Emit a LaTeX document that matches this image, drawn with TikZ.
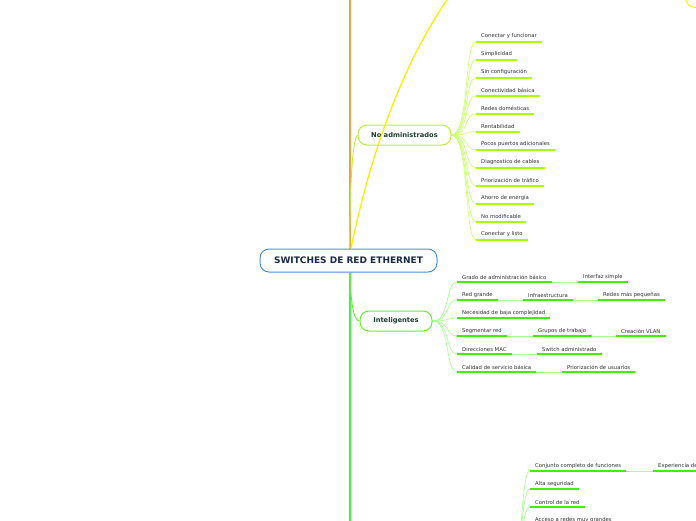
\documentclass[tikz,border=0pt]{standalone}
\usepackage{fontspec}
\setmainfont{DejaVu Sans}
\usetikzlibrary{calc}
\definecolor{rootblue}{HTML}{4A90D9}
\definecolor{navy}{HTML}{1B2A4A}
\definecolor{darkgreen}{HTML}{1F3D33}
\definecolor{orangeL}{HTML}{F5A030}
\definecolor{yellowL}{HTML}{FFEE00}
\definecolor{trunk}{HTML}{33FF33}
\definecolor{chart}{HTML}{AAFF00}
\definecolor{chartbox}{HTML}{B8F040}
\definecolor{chartpale}{HTML}{CCFF77}
\definecolor{greenA}{HTML}{44EE00}
\definecolor{greenbox}{HTML}{66EE33}
\definecolor{greenpale}{HTML}{AAFF99}
\definecolor{leaftext}{HTML}{2E2E2E}
\pgfdeclarelayer{bg}
\pgfsetlayers{bg,main}
\tikzset{
  rootbox/.style={draw=rootblue, line width=1pt, fill=white, rounded corners=9pt,
    minimum width=177pt, minimum height=23pt, inner sep=0pt,
    font=\fontsize{9}{10}\selectfont\bfseries, text=navy},
  mainbox/.style={line width=1pt, fill=white, rounded corners=9pt,
    minimum height=20pt, inner sep=0pt,
    font=\fontsize{6.7}{8}\selectfont\bfseries, text=darkgreen},
  leaf/.style={anchor=south west, inner xsep=5pt, inner ysep=2.6pt,
    font=\fontsize{5.3}{6}\selectfont, text=leaftext},
  ulA/.style={chart, line width=1.9pt},
  ulB/.style={greenA, line width=1.9pt},
  conA/.style={chartpale, line width=0.7pt},
  conB/.style={greenpale, line width=0.7pt},
}
\newcommand{\leafA}[4]{% name, x, y, text
  \node[leaf] (#1) at (#2,#3) {#4};
  \draw[ulA] (#1.south west) -- (#1.south east);
  \begin{pgfonlayer}{bg}
  \draw[conA] (noadm.east) .. controls +(18,0) and +(-12,0) .. (#1.south west);
  \end{pgfonlayer}}
\newcommand{\leafB}[4]{% name, x, y, text
  \node[leaf] (#1) at (#2,#3) {#4};
  \draw[ulB] (#1.south west) -- (#1.south east);}
\begin{document}
\begin{tikzpicture}[x=1pt,y=-1pt]
\useasboundingbox (0,0) rectangle (696,520);

% off-page parents
\coordinate (otop) at (349.5,-5);
\coordinate (ytop) at (480,-40);
\coordinate (gbot) at (349.5,525);
\coordinate (adm) at (508,570);

% top-right yellow node (mostly off page)
\node[draw=yellowL, line width=1pt, rounded corners=10pt, minimum width=80pt,
  minimum height=40pt, anchor=south west] (ynode) at (685,8) {};

% main nodes
\node[rootbox] (root) at (348.5,260.5) {SWITCHES DE RED ETHERNET};
\node[mainbox, draw=chartbox, minimum width=93pt] (noadm) at (404.5,135) {No administrados};
\node[mainbox, draw=greenbox, minimum width=72pt] (intel) at (396,321) {Inteligentes};

\begin{pgfonlayer}{bg}
\draw[orangeL, line width=2pt] ([xshift=1pt]root.north) -- (otop);
\draw[trunk, line width=2pt] ([xshift=1pt]root.south) -- (gbot);
\draw[chartbox, line width=0.9pt] ([xshift=1pt]root.north) .. controls (350,190) and (352,140) .. (noadm.west);
\draw[greenbox, line width=0.9pt] ([xshift=1pt]root.south) .. controls (351,300) and (353,321) .. (intel.west);
\end{pgfonlayer}

% No administrados leaves
\leafA{a1}{476}{41.7}{Conectar y funcionar}
\leafA{a2}{476}{59.7}{Simplicidad}
\leafA{a3}{476}{77.7}{Sin configuración}
\leafA{a4}{476}{95.7}{Conectividad básica}
\leafA{a5}{476}{113.7}{Redes domésticas}
\leafA{a6}{476}{131.7}{Rentabilidad}
\leafA{a7}{476}{149.7}{Pocos puertos adicionales}
\leafA{a8}{476}{167.7}{Diagnostico de cables}
\leafA{a9}{476}{185.7}{Priorización de tráfico}
\leafA{a10}{476}{203.7}{Ahorro de energía}
\leafA{a11}{476}{221.7}{No modificable}
\leafA{a12}{476}{239.7}{Conectar y listo}

% Inteligentes leaves
\leafB{b1}{457}{282}{Grado de administración básico}
\leafB{b1b}{578}{282}{Interfaz simple}
\leafB{b2}{457}{300}{Red grande}
\leafB{b2b}{523}{300}{Infraestructura}
\leafB{b2c}{598}{300}{Redes más pequeñas}
\leafB{b3}{457}{318}{Necesidad de baja complejidad}
\leafB{b4}{457}{336}{Segmentar red}
\leafB{b4b}{533}{336}{Grupos de trabajo}
\leafB{b4c}{616}{336}{Creación VLAN}
\leafB{b5}{457}{354}{Direcciones MAC}
\leafB{b5b}{537}{354}{Switch administrado}
\leafB{b6}{457}{372}{Calidad de servicio básica}
\leafB{b6b}{562}{372}{Priorización de usuarios}

% bottom group leaves
\leafB{c1}{530}{471}{Conjunto completo de funciones}
\leafB{c1b}{653}{471}{Experiencia de}
\leafB{c2}{530}{489}{Alta seguridad}
\leafB{c3}{530}{507}{Control de la red}
\leafB{c4}{530}{525}{Acceso a redes muy grandes}

\begin{pgfonlayer}{bg}
\foreach \n in {b1,b2,b3,b4,b5,b6}
  \draw[conB] (intel.east) .. controls +(18,0) and +(-12,0) .. (\n.south west);
\draw[conB] (b1.south east) -- (b1b.south west);
\draw[conB] (b2.south east) -- (b2b.south west);
\draw[conB] (b2b.south east) -- (b2c.south west);
\draw[conB] (b4.south east) -- (b4b.south west);
\draw[conB] (b4b.south east) -- (b4c.south west);
\draw[conB] (b5.south east) -- (b5b.south west);
\draw[conB] (b6.south east) -- (b6b.south west);
\foreach \n in {c1,c2,c3,c4}
  \draw[conB] (adm) .. controls +(16,0) and +(-10,0) .. (\n.south west);
\draw[conB] (c1.south east) -- (c1b.south west);
\end{pgfonlayer}

% yellow branch to the off-page node
\draw[yellowL, line width=1.3pt] ([xshift=2.5pt]root.north) .. controls (375,130) and (420,20) .. (ytop);
\end{tikzpicture}
\end{document}
